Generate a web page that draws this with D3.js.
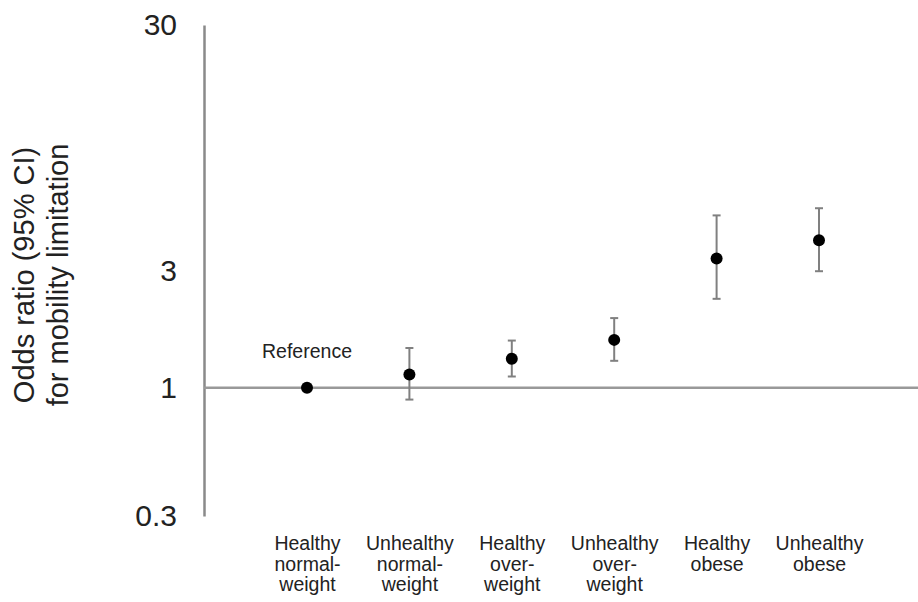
<!DOCTYPE html>
<html>
<head>
<meta charset="utf-8">
<script src="https://cdn.jsdelivr.net/npm/d3@7"></script>
<style>
    body { margin: 0; background: #fff; }
    text { font-family: Arial, "Liberation Sans", sans-serif; fill: #222; }
    .axis-y .domain { stroke: #8a8a8a; stroke-width: 2.5; }
    .axis-y text { font-size: 30px; }
    .axis-x text { font-size: 19.5px; }
    .ref-line { stroke: #999; stroke-width: 2.5; }
    .ci-line { stroke: #808080; stroke-width: 2; }
    .dot { fill: #000; }
</style>
</head>
<body>
<div id="chart"></div>
<script>
//////////////////////////////////////////////////////////////
//////////////////////// Data ////////////////////////////////
//////////////////////////////////////////////////////////////

const categories = ["Healthy normal-weight", "Unhealthy normal-weight", "Healthy over-weight",
    "Unhealthy over-weight", "Healthy obese", "Unhealthy obese"]
const categoryLines = [
    ["Healthy", "normal-", "weight"],
    ["Unhealthy", "normal-", "weight"],
    ["Healthy", "over-", "weight"],
    ["Unhealthy", "over-", "weight"],
    ["Healthy", "obese"],
    ["Unhealthy", "obese"]
]
const oddsRatio = [1, 1.13, 1.31, 1.565, 3.36, 3.98]
const ciLower = [null, 0.894, 1.11, 1.286, 2.30, 2.98]
const ciUpper = [null, 1.45, 1.555, 1.92, 5.03, 5.38]
const yTicks = [0.3, 1, 3, 30]
const yTitle = ["Odds ratio (95% CI)", "for mobility limitation"]
const referenceLabel = "Reference"

//////////////////////////////////////////////////////////////
//////////////////////// Create SVG //////////////////////////
//////////////////////////////////////////////////////////////

const width = 918
const height = 602
const axisX = 204

const svg = d3.select("#chart")
    .append("svg")
    .attr("width", width)
    .attr("height", height)

const rows = categories.map((c, i) => ({
    cat: c,
    lines: categoryLines[i],
    or: oddsRatio[i],
    lo: ciLower[i],
    hi: ciUpper[i]
}))

//////////////////////////////////////////////////////////////
////////////////////// Create scales /////////////////////////
//////////////////////////////////////////////////////////////

const xScale = d3.scalePoint()
    .domain(categories)
    .range([307, 819])

const yScale = d3.scaleLog()
    .domain([0.3, 30])
    .range([516, 25])

//////////////////////////////////////////////////////////////
///////////////////////// Axes ///////////////////////////////
//////////////////////////////////////////////////////////////

const yAxis = svg.append("g")
    .attr("class", "axis-y")
    .attr("transform", "translate(" + axisX + ",0)")
    .call(d3.axisLeft(yScale)
        .tickValues(yTicks)
        .tickSize(0)
        .tickSizeOuter(0)
        .tickPadding(27)
        .tickFormat(d => d))
yAxis.selectAll(".tick line").remove()

//Horizontal line at odds ratio 1
svg.append("line")
    .attr("class", "ref-line")
    .attr("x1", axisX)
    .attr("x2", width)
    .attr("y1", yScale(1))
    .attr("y2", yScale(1))

const xAxis = svg.append("g")
    .attr("class", "axis-x")
    .attr("transform", "translate(0,550)")
    .call(d3.axisBottom(xScale).tickSize(0).tickPadding(0))
xAxis.select(".domain").remove()
xAxis.selectAll(".tick text")
    .attr("y", 0)
    .attr("dy", null)
    .text(null)
    .each(function(d, i) {
        d3.select(this).selectAll("tspan")
            .data(categoryLines[i])
            .enter().append("tspan")
            .attr("x", 0)
            .attr("y", (l, j) => j * 20.5)
            .text(l => l)
    })

//Y axis title
svg.append("g")
    .attr("transform", "translate(0,275) rotate(-90)")
    .selectAll("text")
    .data(yTitle)
    .enter().append("text")
    .attr("text-anchor", "middle")
    .attr("y", (d, i) => 34 + i * 34)
    .style("font-size", "29px")
    .text(d => d)

//////////////////////////////////////////////////////////////
////////////////////// Error bars & dots /////////////////////
//////////////////////////////////////////////////////////////

const ci = svg.append("g").attr("class", "ci-group")
const ciRows = rows.filter(d => d.lo !== null)

ci.selectAll(".ci-vert")
    .data(ciRows)
    .enter().append("line")
    .attr("class", "ci-line")
    .attr("x1", d => xScale(d.cat))
    .attr("x2", d => xScale(d.cat))
    .attr("y1", d => yScale(d.lo))
    .attr("y2", d => yScale(d.hi))

ci.selectAll(".ci-cap")
    .data(ciRows.flatMap(d => [{cat: d.cat, v: d.lo}, {cat: d.cat, v: d.hi}]))
    .enter().append("line")
    .attr("class", "ci-line")
    .attr("x1", d => xScale(d.cat) - 4)
    .attr("x2", d => xScale(d.cat) + 4)
    .attr("y1", d => yScale(d.v))
    .attr("y2", d => yScale(d.v))

svg.append("g").selectAll(".dot")
    .data(rows)
    .enter().append("circle")
    .attr("class", "dot")
    .attr("cx", d => xScale(d.cat))
    .attr("cy", d => yScale(d.or))
    .attr("r", 6)

//Reference label above the first point
svg.append("text")
    .attr("x", xScale(categories[0]))
    .attr("y", yScale(oddsRatio[0]) - 30)
    .attr("text-anchor", "middle")
    .style("font-size", "19.5px")
    .text(referenceLabel)
</script>
</body>
</html>
